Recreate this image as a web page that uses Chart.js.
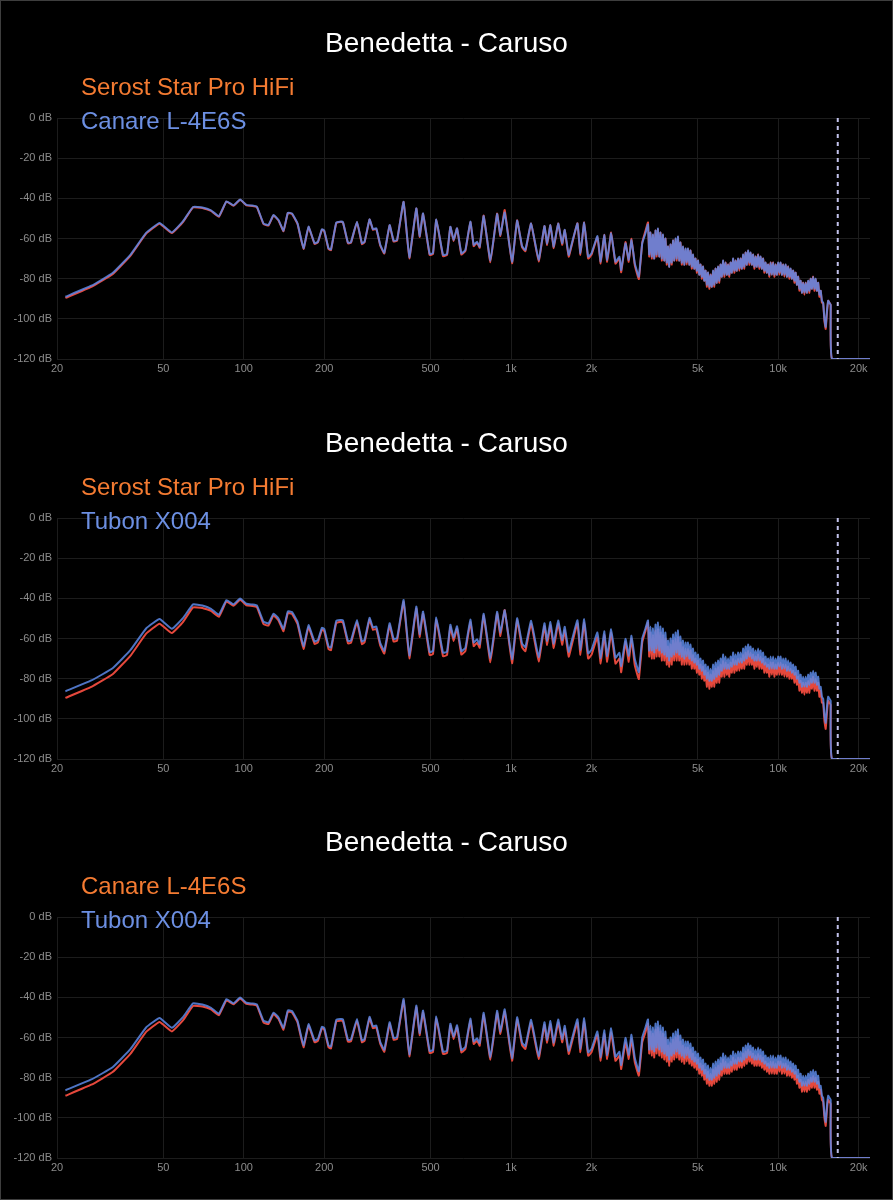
<!DOCTYPE html>
<html>
<head>
<meta charset="utf-8">
<script src="https://cdn.jsdelivr.net/npm/chart.js@4.4.0/dist/chart.umd.min.js"></script>
<style>
  html, body { margin: 0; padding: 0; background: #000; }
  #page { position: relative; width: 893px; height: 1200px; overflow: hidden; background: #000; }
  .panel { position: absolute; left: 0; width: 893px; height: 400px; }
  #frame { position: absolute; left: 0; top: 0; right: 0; bottom: 0; border: 1px solid #3e3e3e; pointer-events: none; }
</style>
</head>
<body>
<div id="page">
  <div class="panel" style="top:0"><canvas id="c1"></canvas></div>
  <div class="panel" style="top:400px"><canvas id="c2"></canvas></div>
  <div class="panel" style="top:799px"><canvas id="c3"></canvas></div>
  <div id="frame"></div>
</div>
<script>
const trackTitle = 'Benedetta - Caruso'
const cutoffHz = 16700

const freqTicks = [20, 50, 100, 200, 500, 1000, 2000, 5000, 10000, 20000]
const freqTickLabels = ['20', '50', '100', '200', '500', '1k', '2k', '5k', '10k', '20k']

// frequency of every vertex, Hz (sparse below 3.2k, dense above)
const freqHz = [
    21.5, 26.9, 32.3, 37.7, 43.1, 48.4, 53.8, 59.2, 64.6, 70.0,
    75.4, 80.7, 86.1, 91.5, 96.9, 102.3, 107.7, 112, 118.5, 123.7,
    129.2, 134.9, 140.8, 146.2, 151.4, 158.9, 167.3, 174.7, 184, 189.4,
    196.1, 200, 207.6, 212, 221.8, 229.6, 235, 245.4, 251.8, 265.2,
    276.8, 283.2, 295.6, 304.4, 313.2, 324.2, 335.6, 351.4, 363.6, 374.6,
    396.4, 416.4, 442.2, 455, 468.6, 496, 510.6, 525.4, 556.6, 576.2,
    593, 610, 628.2, 652, 675, 704.6, 725, 746.4, 763.4, 790.2,
    837.2, 887, 912.6, 947, 1009, 1054, 1100, 1132, 1189, 1269,
    1334, 1365, 1404, 1445, 1501, 1554, 1589, 1644, 1702, 1773,
    1819, 1878, 1944, 2000, 2106, 2166, 2232, 2290, 2370, 2460,
    2546, 2584, 2682, 2758, 2824, 2906, 3008, 3098, 3186,
    3255, 3290, 3326, 3362, 3399, 3436, 3473, 3510, 3548, 3587,
    3626, 3665, 3705, 3745, 3786, 3827, 3868, 3910, 3952, 3995,
    4039, 4083, 4127, 4172, 4217, 4262, 4308, 4355, 4402, 4450,
    4498, 4547, 4596, 4646, 4697, 4748, 4799, 4851, 4904, 4957,
    5011, 5065, 5120, 5175, 5231, 5288, 5345, 5403, 5462, 5521,
    5581, 5642, 5703, 5765, 5827, 5890, 5954, 6019, 6084, 6150,
    6216, 6284, 6352, 6421, 6491, 6561, 6632, 6704, 6777, 6850,
    6924, 6999, 7075, 7152, 7230, 7308, 7387, 7467, 7548, 7630,
    7713, 7797, 7881, 7967, 8053, 8140, 8228, 8318, 8408, 8499,
    8591, 8684, 8778, 8874, 8970, 9067, 9165, 9265, 9365, 9467,
    9569, 9673, 9778, 9884, 9991, 10100, 10209, 10320, 10431, 10545,
    10659, 10775, 10891, 11009, 11128, 11249, 11371, 11495, 11619, 11745,
    11872, 12001, 12131, 12263, 12395, 12530, 12666, 12804, 12942, 13083,
    13224, 13368, 13512, 13659, 13807, 13957, 14108, 14261, 14415, 14572,
    14729, 14890, 15051, 15215, 15379, 15546, 15714,
    15900, 22050
]

// levels in dB
const serost = [
    -89.6, -84.1, -77.8, -68.5, -57.6, -52.6, -57.3, -51.8, -44.5, -44.8,
    -46.2, -49.2, -41.6, -43.7, -40.7, -43.5, -43.8, -44.4, -52.8, -53.6,
    -48.5, -51.0, -56.4, -47.3, -47.7, -52.8, -65.2, -54.3, -62.7, -61.9,
    -55.6, -56.3, -65.3, -65.8, -52.3, -51.7, -52.0, -62.4, -62.2, -51.8,
    -62.8, -61.9, -50.6, -55.7, -55.2, -63.6, -67.5, -53.5, -61.5, -61.1,
    -41.8, -69.9, -45.1, -59.2, -47.7, -68.2, -67.7, -50.7, -68.8, -68.2,
    -54.3, -61.3, -55.0, -68.0, -66.2, -51.8, -63.8, -62.1, -64.6, -48.6,
    -71.8, -47.6, -58.8, -45.8, -72.3, -51.0, -64.4, -66.3, -52.6, -71.4,
    -53.9, -63.2, -53.4, -64.8, -52.5, -63.1, -55.9, -69.0, -61.4, -52.4,
    -68.2, -52.0, -70.0, -68.2, -59.4, -72.5, -58.2, -71.6, -57.0, -72.5,
    -70.0, -76.8, -61.8, -71.6, -60.2, -73.4, -80.2, -62.0, -56.2,
    -52, -69, -57, -70, -58, -70, -56, -69, -55, -69,
    -57, -71, -58, -71, -60, -73, -64, -74, -63, -73,
    -61, -71, -60, -71, -59, -71, -62, -73, -64, -73,
    -65, -73, -65, -73, -66, -75, -68, -75, -70, -77,
    -71, -78, -73, -80, -74, -81, -76, -84, -77, -85,
    -78, -84, -76, -84, -75, -82, -74, -82, -73, -79,
    -71, -79, -72, -78, -73, -79, -72, -77, -70, -77,
    -71, -76, -70, -76, -70, -75, -68, -75, -67, -73,
    -66, -73, -67, -73, -68, -75, -69, -74, -68, -75,
    -69, -75, -70, -77, -72, -77, -73, -79, -72, -78,
    -72, -79, -73, -78, -72, -78, -72, -78, -73, -79,
    -73, -79, -74, -80, -75, -80, -76, -82, -77, -83,
    -79, -86, -81, -87, -82, -88, -82, -87, -81, -87,
    -80, -85, -79, -86, -80, -86, -82, -89, -86, -92,
    -92, -101, -105, -97, -91, -92, -93,
    -120, -120
]

const canare = [
    -89.0, -83.5, -77.2, -68.0, -57.2, -52.3, -57.0, -51.5, -44.3, -44.6,
    -46.0, -48.9, -41.5, -43.5, -40.6, -43.3, -43.6, -44.2, -52.5, -53.3,
    -48.3, -50.8, -56.1, -47.2, -47.5, -52.5, -64.9, -54.1, -62.4, -61.6,
    -55.4, -56.0, -64.9, -65.4, -52.1, -51.6, -51.8, -62.1, -61.9, -51.6,
    -62.4, -61.6, -50.5, -55.4, -54.9, -63.2, -67.1, -53.3, -61.1, -60.8,
    -41.7, -69.4, -45.0, -58.8, -47.5, -67.7, -67.2, -50.5, -68.2, -67.7,
    -54.1, -60.8, -54.9, -67.4, -65.7, -51.6, -63.2, -61.6, -64.1, -48.8,
    -71.1, -47.8, -58.3, -47.1, -71.6, -51.1, -63.8, -65.7, -52.5, -70.7,
    -53.8, -62.6, -53.3, -64.1, -52.5, -62.4, -55.7, -68.2, -60.8, -52.5,
    -67.4, -52.1, -69.1, -67.4, -58.8, -71.6, -58.3, -70.7, -57.4, -71.6,
    -69.1, -75.7, -62.4, -70.7, -60.8, -72.4, -79.0, -62.4, -57.4,
    -53, -68, -57, -69, -58, -70, -56, -68, -55, -69,
    -57, -70, -58, -71, -60, -72, -64, -74, -63, -72,
    -61, -71, -60, -70, -59, -71, -62, -72, -64, -73,
    -65, -72, -65, -73, -66, -74, -68, -75, -70, -76,
    -71, -78, -73, -79, -74, -81, -76, -83, -77, -84,
    -78, -84, -76, -83, -75, -82, -74, -81, -73, -79,
    -71, -78, -72, -78, -73, -78, -72, -77, -70, -76,
    -71, -76, -70, -75, -70, -75, -68, -74, -67, -73,
    -66, -72, -67, -73, -68, -74, -69, -74, -68, -74,
    -69, -75, -70, -76, -72, -77, -73, -78, -72, -78,
    -72, -78, -73, -78, -72, -77, -72, -78, -73, -78,
    -73, -79, -74, -79, -75, -80, -76, -81, -77, -83,
    -79, -85, -81, -87, -82, -87, -82, -87, -81, -86,
    -80, -85, -79, -85, -80, -86, -82, -88, -86, -91,
    -92, -100, -104, -96, -91, -92, -93,
    -120, -120
]

const tubon = [
    -86.3, -80.9, -74.8, -65.7, -55.0, -50.3, -55.2, -49.9, -43.0, -43.6,
    -45.2, -48.2, -40.9, -43.0, -40.1, -42.7, -43.1, -43.6, -51.6, -52.5,
    -47.6, -50.1, -55.2, -46.5, -46.8, -51.7, -63.9, -53.3, -61.5, -60.8,
    -54.6, -55.2, -64.0, -64.5, -51.3, -50.8, -51.0, -61.2, -61.0, -50.8,
    -61.5, -60.7, -49.7, -54.5, -54.0, -62.3, -66.1, -52.4, -60.2, -59.9,
    -40.8, -68.4, -44.1, -57.8, -46.6, -66.7, -66.2, -49.6, -67.1, -66.6,
    -53.1, -59.7, -53.9, -66.3, -64.6, -50.6, -62.0, -60.4, -62.9, -47.7,
    -69.9, -46.7, -57.1, -46.0, -70.3, -49.9, -62.5, -64.3, -51.2, -69.3,
    -52.4, -61.2, -51.8, -62.6, -51.0, -60.8, -54.2, -66.6, -59.2, -50.9,
    -65.7, -50.4, -67.4, -65.7, -57.0, -69.8, -56.4, -68.8, -55.4, -69.6,
    -67.1, -73.7, -60.2, -68.6, -58.6, -70.2, -76.8, -60.0, -55.0,
    -51, -66, -54, -66, -55, -67, -53, -65, -52, -66,
    -54, -67, -55, -68, -57, -69, -61, -71, -60, -69,
    -58, -68, -57, -67, -56, -68, -59, -69, -61, -70,
    -62, -69, -62, -70, -63, -71, -65, -72, -67, -73,
    -68, -75, -70, -76, -71, -78, -73, -80, -74, -81,
    -75, -81, -73, -80, -72, -79, -71, -78, -70, -76,
    -68, -75, -69, -75, -70, -75, -69, -74, -67, -73,
    -68, -73, -67, -72, -67, -72, -65, -71, -64, -70,
    -63, -69, -64, -70, -65, -71, -66, -71, -65, -71,
    -66, -72, -67, -73, -69, -74, -70, -75, -69, -75,
    -69, -75, -70, -75, -69, -74, -69, -75, -70, -75,
    -70, -76, -71, -76, -72, -77, -73, -78, -74, -80,
    -76, -82, -78, -84, -79, -84, -79, -84, -78, -83,
    -77, -82, -76, -82, -77, -83, -79, -85, -84, -89,
    -90, -98, -102, -94, -89, -90, -91,
    -120, -120
]

const panels = [
    { canvas: 'c1', names: ['Serost Star Pro HiFi', 'Canare L-4E6S'], series: [serost, canare] },
    { canvas: 'c2', names: ['Serost Star Pro HiFi', 'Tubon X004'], series: [serost, tubon] },
    { canvas: 'c3', names: ['Canare L-4E6S', 'Tubon X004'], series: [canare, tubon] }
]

const fontFamily = '"Liberation Sans", Arial, sans-serif'
const lineColors = ['#e5483c', 'rgba(92, 136, 230, 0.85)']
const nameColors = ['#f47b32', '#6c8fe2']
const gridColor = '#1c1c1c'
const tickColor = '#8c8c8c'

Chart.defaults.font.family = fontFamily

// title + coloured series names, drawn over the plot like the original
const panelText = {
    id: 'panelText',
    afterDraw(chart, args, opts) {
        const ctx = chart.ctx
        ctx.save()
        ctx.textBaseline = 'middle'
        ctx.textAlign = 'center'
        ctx.fillStyle = '#ffffff'
        ctx.font = '28px ' + fontFamily
        ctx.fillText(opts.title, chart.width / 2, 44)
        ctx.textAlign = 'left'
        ctx.font = '24px ' + fontFamily
        opts.names.forEach((n, i) => {
            ctx.fillStyle = nameColors[i]
            ctx.fillText(n, 81, 88 + i * 34)
        })
        ctx.restore()
    }
}

const cutoffLine = {
    id: 'cutoffLine',
    afterDatasetsDraw(chart) {
        const { ctx, chartArea, scales } = chart
        const x = scales.x.getPixelForValue(cutoffHz)
        ctx.save()
        ctx.strokeStyle = '#c2c2ec'
        ctx.lineWidth = 2
        ctx.setLineDash([4, 4])
        ctx.beginPath()
        ctx.moveTo(x, chartArea.top)
        ctx.lineTo(x, chartArea.bottom)
        ctx.stroke()
        ctx.restore()
    }
}

function makeConfig(panel) {
    const datasets = panel.series.map((values, i) => ({
        label: panel.names[i],
        data: freqHz.map((f, j) => ({ x: f, y: values[j] })),
        borderColor: lineColors[i],
        borderWidth: 2,
        pointRadius: 0,
        tension: 0.1,
        order: i === 0 ? 1 : 0
    }))
    return {
        type: 'line',
        data: { datasets },
        plugins: [panelText, cutoffLine],
        options: {
            responsive: true,
            maintainAspectRatio: false,
            animation: false,
            events: [],
            layout: { padding: { left: 0, right: 23, top: 118, bottom: 21 } },
            plugins: {
                legend: { display: false },
                tooltip: { enabled: false },
                panelText: { title: trackTitle, names: panel.names }
            },
            scales: {
                x: {
                    type: 'logarithmic',
                    min: 20,
                    max: 22050,
                    afterBuildTicks: axis => { axis.ticks = freqTicks.map(v => ({ value: v })) },
                    afterFit: axis => { axis.height = 20 },
                    ticks: {
                        autoSkip: false,
                        maxRotation: 0,
                        color: tickColor,
                        font: { size: 11 },
                        padding: 3,
                        callback: (v, i) => freqTickLabels[i]
                    },
                    grid: { color: gridColor, drawTicks: false },
                    border: { display: false }
                },
                y: {
                    min: -120,
                    max: 0,
                    afterFit: axis => { axis.width = 57 },
                    ticks: {
                        stepSize: 20,
                        color: tickColor,
                        font: { size: 11 },
                        padding: 5,
                        callback: v => v + ' dB'
                    },
                    grid: { color: gridColor, drawTicks: false },
                    border: { display: false }
                }
            }
        }
    }
}

panels.forEach(p => {
    new Chart(document.getElementById(p.canvas).getContext('2d'), makeConfig(p))
})
</script>
</body>
</html>
